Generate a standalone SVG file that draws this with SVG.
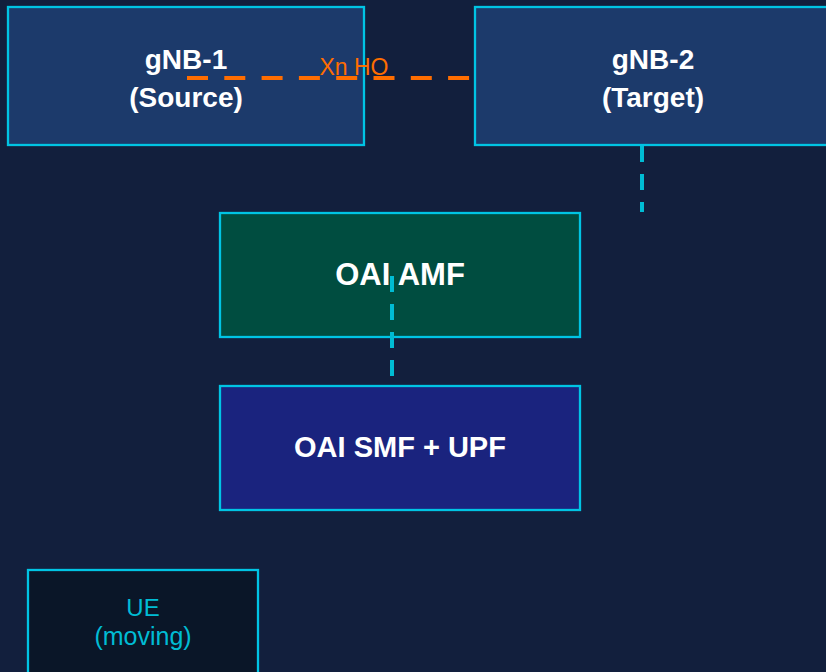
<svg xmlns="http://www.w3.org/2000/svg" width="826" height="672" viewBox="0 0 826 672">
<style>
.box{stroke:#00c4e4;stroke-width:2.3}
.t{font-family:"Liberation Sans",Arial,sans-serif;font-weight:bold;fill:#ffffff;text-anchor:middle}
.cy{fill:none;stroke:#00bcd4;stroke-width:4;stroke-dasharray:16 12}
</style>
<rect x="0" y="0" width="826" height="672" fill="#121f3d"/>
<g id="gnb1">
<rect class="box" x="8" y="7" width="356" height="138" fill="#1c3a6b"/>
<text class="t" x="186" y="69" font-size="28">gNB-1</text>
<text class="t" x="186" y="107" font-size="28">(Source)</text>
</g>
<g id="connectors">
<line x1="187" y1="78" x2="475" y2="78" stroke="#ff6d00" stroke-width="4" stroke-dasharray="21 16.3"/>
<text x="354" y="75" font-family="Liberation Sans,Arial,sans-serif" font-size="23" fill="#ff6d00" text-anchor="middle">Xn HO</text>
<line class="cy" x1="642" y1="146" x2="642" y2="212"/>
</g>
<g id="gnb2">
<rect class="box" x="475" y="7" width="356" height="138" fill="#1c3a6b"/>
<text class="t" x="653" y="69" font-size="28">gNB-2</text>
<text class="t" x="653" y="107" font-size="28">(Target)</text>
</g>
<g id="amf">
<rect class="box" x="220" y="213" width="360" height="124" fill="#004d40"/>
<text class="t" x="400" y="285" font-size="31">OAI AMF</text>
</g>
<g id="smf">
<rect class="box" x="220" y="386" width="360" height="124" fill="#1a237e"/>
<text class="t" x="400" y="457" font-size="29">OAI SMF + UPF</text>
</g>
<g id="connectors2">
<line class="cy" x1="392" y1="276" x2="392" y2="385"/>
</g>
<g id="ue">
<rect class="box" x="28" y="570" width="230" height="120" fill="#0a1628"/>
<text x="143" y="616" font-family="Liberation Sans,Arial,sans-serif" font-size="24" fill="#00bcd4" text-anchor="middle">UE</text>
<text x="143" y="645" font-family="Liberation Sans,Arial,sans-serif" font-size="25" fill="#00bcd4" text-anchor="middle">(moving)</text>
</g>
</svg>
